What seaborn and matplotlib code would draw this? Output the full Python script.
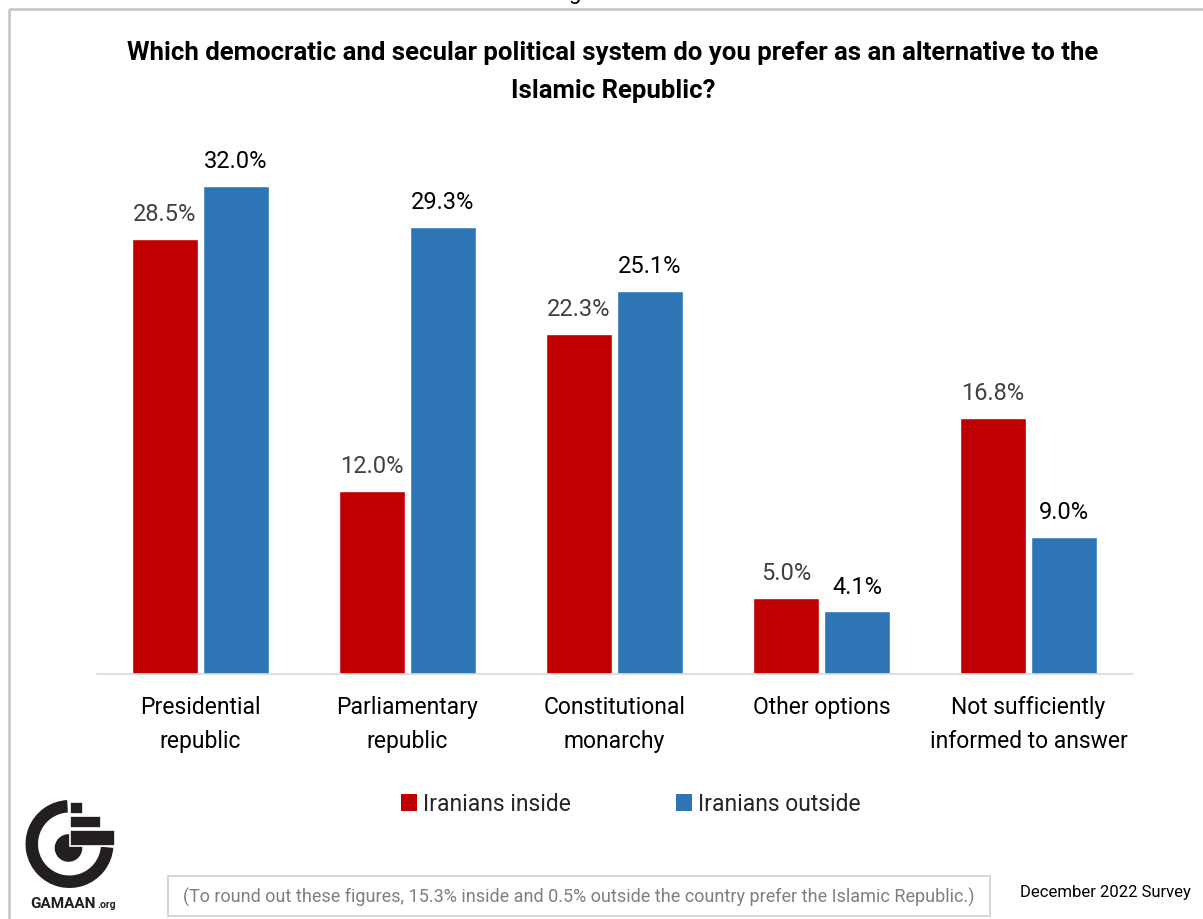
import matplotlib
matplotlib.use("Agg")
import matplotlib.pyplot as plt
import seaborn as sns
import pandas as pd
from matplotlib.patches import Rectangle, Wedge, Circle, Patch

# ---- data ----
categories = [
    "Presidential\nrepublic",
    "Parliamentary\nrepublic",
    "Constitutional\nmonarchy",
    "Other options",
    "Not sufficiently\ninformed to answer",
]
groups = ["Iranians inside", "Iranians outside"]
inside = [28.5, 12.0, 22.3, 5.0, 16.8]
outside = [32.0, 29.3, 25.1, 4.1, 9.0]

bar_colors = ["#C00000", "#2E75B6"]
value_colors = ["#404040", "#000000"]

title = ("Which democratic and secular political system do you prefer as an alternative to the\n"
         "Islamic Republic?")
footnote = ("(To round out these figures, 15.3% inside and 0.5% outside the country "
            "prefer the Islamic Republic.)")
survey = "December 2022 Survey"

# ---- style ----
sns.set_theme(style="white")
plt.rcParams["font.family"] = ["Roboto", "DejaVu Sans"]

W, H = 1203, 920
fig = plt.figure(figsize=(W / 100, H / 100), dpi=100)

# pixel-space layer for frame, logo and footer
deco = fig.add_axes([0, 0, 1, 1], zorder=0)
deco.set_xlim(0, W)
deco.set_ylim(H, 0)
deco.axis("off")

# chart area
ax = fig.add_axes([97 / W, (H - 675) / H, (1132 - 97) / W, (675 - 150) / H], zorder=1)
ax.patch.set_alpha(0)

df = pd.DataFrame({
    "category": categories * 2,
    "value": inside + outside,
    "group": [groups[0]] * len(categories) + [groups[1]] * len(categories),
})

sns.barplot(data=df, x="category", y="value", hue="group", hue_order=groups,
            palette=bar_colors, saturation=1, width=0.686, gap=0.07,
            errorbar=None, legend=False, ax=ax)

for cont, vals, col in zip(ax.containers, [inside, outside], value_colors):
    ax.bar_label(cont, labels=[f"{v:.1f}%" for v in vals], padding=10,
                 color=col, fontsize=17)

ax.set_ylim(0, 525 / 15.25)
ax.set_xlim(-0.5, len(categories) - 0.5)
ax.set_xlabel("")
ax.set_ylabel("")
ax.set_yticks([])
for s in ["left", "top", "right"]:
    ax.spines[s].set_visible(False)
ax.spines["bottom"].set_color("#d9d9d9")
ax.spines["bottom"].set_linewidth(1.2)

ax.set_xticks(range(len(categories)))
ax.set_xticklabels(categories, fontsize=16.5, color="#000000")
ax.tick_params(axis="x", which="major", length=0, pad=15)
ax.set_xticks([i - 0.5 for i in range(len(categories) + 1)], minor=True)
ax.tick_params(axis="x", which="minor", length=7, width=1.2, color="#d9d9d9",
               direction="out")
for lab in ax.get_xticklabels():
    lab.set_linespacing(1.6)

# legend
handles = [Patch(facecolor=c, edgecolor="none", label=g) for g, c in zip(groups, bar_colors)]
fig.legend(handles=handles, loc="center", bbox_to_anchor=(631 / W, 1 - 805 / H),
           ncol=2, frameon=False, fontsize=16.5, handlelength=0.7, handleheight=0.7,
           handletextpad=0.25, columnspacing=4.6)

# title
fig.text(613 / W, 1 - 72 / H, title, ha="center", va="center", fontsize=18.5,
         fontweight="bold", linespacing=1.75, color="#000000")

# frame
frame_c = "#c8c8c8"
deco.plot([9, W], [10, 10], color=frame_c, lw=2, solid_capstyle="butt")
deco.plot([9, 9], [10, H], color=frame_c, lw=2, solid_capstyle="butt")
deco.text(575, -1, "g", ha="center", va="baseline", fontsize=16, color="#000000")

# footer
deco.add_patch(Rectangle((168, 877), 822, 40, fill=False, edgecolor="#d0d0d0", lw=1.2))
deco.text(579, 897, footnote, ha="center", va="center", fontsize=13, color="#7f7f7f")
deco.text(1020, 893, survey, ha="left", va="center", fontsize=12, color="#000000")

# logo
ink = "#231f20"
deco.add_patch(Wedge((69.5, 845), 44, 5, 267, width=12.5, facecolor=ink, edgecolor="none"))
deco.add_patch(Circle((68.5, 849), 13.8, facecolor=ink, edgecolor="none"))
for (x0, y0, w, h) in [(70, 802.7, 12.7, 12.3), (70, 816.7, 30.7, 12.6), (70, 830.7, 45, 16)]:
    deco.add_patch(Rectangle((x0, y0), w, h, facecolor=ink, edgecolor="white", lw=1.2))
deco.text(96, 908, "GAMAAN", ha="right", va="baseline", fontsize=11,
          fontweight="bold", color=ink)
deco.text(97, 908, ".org", ha="left", va="baseline", fontsize=7.5,
          fontweight="bold", color=ink)

fig.savefig("out.png", dpi=100)
